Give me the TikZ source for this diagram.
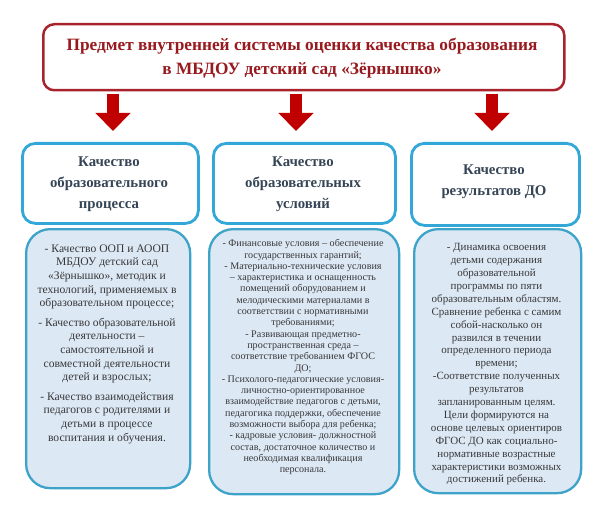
\documentclass[tikz,border=0pt]{standalone}
\usepackage{fontspec}
\setmainfont{Liberation Serif}
\usetikzlibrary{arrows.meta}
\definecolor{titlered}{HTML}{981A1F}
\definecolor{boxred}{HTML}{A8232B}
\definecolor{arrowred}{HTML}{C00000}
\definecolor{midblue}{HTML}{33A8D8}
\definecolor{midtext}{HTML}{354555}
\definecolor{lowfill}{HTML}{DDE8F5}
\definecolor{lowedge}{HTML}{3EA3C8}
\definecolor{lowtext}{HTML}{383838}
\tikzset{
  topbox/.style={draw=boxred, line width=2.5pt, rounded corners=11pt, fill=white, anchor=north west, inner sep=0pt},
  midbox/.style={draw=midblue, line width=2.8pt, rounded corners=13pt, fill=white, anchor=north west, inner sep=0pt},
  lowbox/.style={draw=lowedge, line width=2.3pt, rounded corners=24pt, fill=lowfill, anchor=north west, inner sep=0pt},
  titletext/.style={text=titlered, align=center, font=\fontsize{17.3}{24}\selectfont\bfseries},
  midlabel/.style={text=midtext, align=center, font=\fontsize{14.8}{21}\selectfont\bfseries},
  lowtextA/.style={text=lowtext, align=center, anchor=north, font=\fontsize{11.6}{13.6}\selectfont},
  lowtextB/.style={text=lowtext, align=center, anchor=north, font=\fontsize{10.1}{11.3}\selectfont},
  lowtextC/.style={text=lowtext, align=center, anchor=north, font=\fontsize{11}{12.9}\selectfont},
  bigarrow/.style={draw=arrowred, line width=12pt, -{Triangle[width=34pt,length=18pt]}}
}
\begin{document}
\begin{tikzpicture}[x=1pt,y=-1pt]
\useasboundingbox[fill=white] (0,0) rectangle (600,516);

% top box
\node[topbox, minimum width=521pt, minimum height=66pt] (top) at (42,23) {};
\node[titletext] (title) at (302,58) {Предмет внутренней системы оценки качества образования\\в МБДОУ детский сад «Зёрнышко»};

% arrows
\coordinate (a1s) at (113,94);  \coordinate (a1e) at (113,131);
\coordinate (a2s) at (296,94);  \coordinate (a2e) at (296,131);
\coordinate (a3s) at (492,94);  \coordinate (a3e) at (492,131);
\draw[bigarrow] (a1s) -- (a1e);
\draw[bigarrow] (a2s) -- (a2e);
\draw[bigarrow] (a3s) -- (a3e);

% middle boxes
\node[midbox, minimum width=176pt, minimum height=80pt] (m1) at (21,142) {};
\node[midbox, minimum width=182pt, minimum height=80pt] (m2) at (212,142) {};
\node[midbox, minimum width=168pt, minimum height=82pt] (m3) at (410,142) {};
\node[midlabel] (m1t) at (109,184) {Качество\\образовательного\\процесса};
\node[midlabel] (m2t) at (303,184) {Качество\\образовательных\\условий};
\node[midlabel] (m3t) at (494,182) {Качество\\результатов ДО};

% lower boxes
\node[lowbox, minimum width=164pt, minimum height=259pt] (l1) at (25,228) {};
\node[lowbox, minimum width=190pt, minimum height=265pt] (l2) at (208,228) {};
\node[lowbox, minimum width=167pt, minimum height=264pt] (l3) at (413,228) {};

\node[lowtextA] (l1t) at (107,241) {- Качество ООП и АООП\\МБДОУ детский сад\\«Зёрнышко», методик и\\технологий, применяемых в\\образовательном процессе;\\[6pt]- Качество образовательной\\деятельности –\\самостоятельной и\\совместной деятельности\\детей и взрослых;\\[6pt]- Качество взаимодействия\\педагогов с родителями и\\детьми в процессе\\воспитания и обучения.};

\node[lowtextB] (l2t) at (303,236) {- Финансовые условия – обеспечение\\государственных гарантий;\\- Материально-технические условия\\– характеристика и оснащенность\\помещений оборудованием и\\мелодическими материалами в\\соответствии с нормативными\\требованиями;\\- Развивающая предметно-\\пространственная среда –\\соответствие требованием ФГОС\\ДО;\\- Психолого-педагогические условия-\\личностно-ориентированное\\взаимодействие педагогов с детьми,\\педагогика поддержки, обеспечение\\возможности выбора для ребенка;\\- кадровые условия- должностной\\состав, достаточное количество и\\необходимая квалификация\\персонала.};

\node[lowtextC] (l3t) at (496.5,240) {- Динамика освоения\\детьми содержания\\образовательной\\программы по пяти\\образовательным областям.\\Сравнение ребенка с самим\\собой-насколько он\\развился в течении\\определенного периода\\времени;\\-Соответствие полученных\\результатов\\запланированным целям.\\Цели формируются на\\основе целевых ориентиров\\ФГОС ДО как социально-\\нормативные возрастные\\характеристики возможных\\достижений ребенка.};
\end{tikzpicture}
\end{document}
